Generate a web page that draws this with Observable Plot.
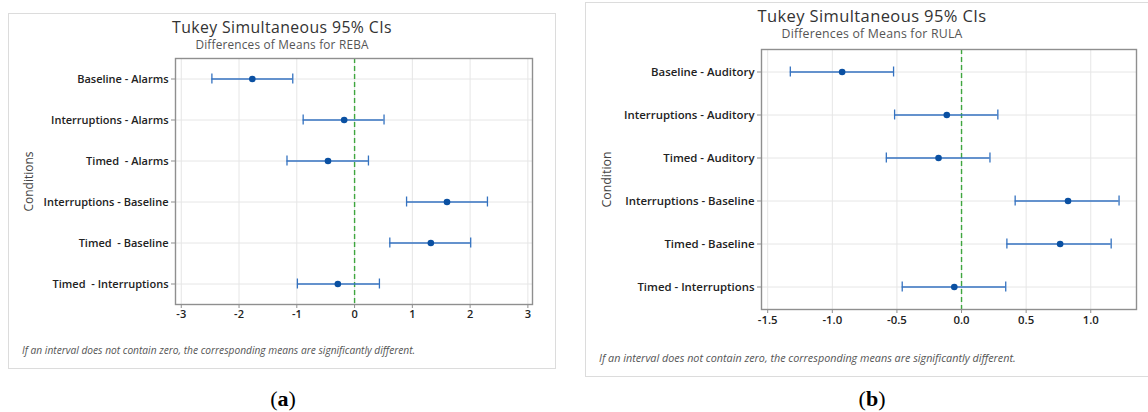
<!DOCTYPE html>
<html>
<head>
<meta charset="utf-8">
<script src="https://cdn.jsdelivr.net/npm/d3@7"></script>
<script src="https://cdn.jsdelivr.net/npm/@observablehq/plot@0.6"></script>
<style>
  html, body { margin: 0; padding: 0; background: #fff; }
  body { width: 1148px; height: 412px; position: relative; overflow: hidden; font-family: "Open Sans", sans-serif; }
  .box { position: absolute; border: 1.5px solid #dcdcdc; box-sizing: border-box; }
  .abs { position: absolute; white-space: nowrap; }
  .title { color: #333; transform: translateX(-50%); letter-spacing: 0.4px; }
  .sub { color: #555; transform: translateX(-50%); letter-spacing: 0.2px; }
  .foot { color: #555; font-style: italic; }
  .lab { font-family: "Liberation Serif", "DejaVu Serif", serif; font-size: 22px; color: #000; transform: translateX(-50%); }
  svg text { white-space: pre; }
</style>
</head>
<body>
<div id="root"></div>
<script>
// ---- Data: panel (a) REBA ----
const condA = ["Baseline - Alarms", "Interruptions - Alarms", "Timed  - Alarms", "Interruptions - Baseline", "Timed  - Baseline", "Timed  - Interruptions"];
const meanA = [-1.77, -0.18, -0.46, 1.60, 1.32, -0.29];
const loA   = [-2.47, -0.89, -1.17, 0.90, 0.61, -0.99];
const hiA   = [-1.07, 0.51, 0.24, 2.30, 2.01, 0.43];
const ticksA = [-3, -2, -1, 0, 1, 2, 3];

// ---- Data: panel (b) RULA ----
const condB = ["Baseline - Auditory", "Interruptions - Auditory", "Timed - Auditory", "Interruptions - Baseline", "Timed - Baseline", "Timed - Interruptions"];
const meanB = [-0.924, -0.114, -0.178, 0.824, 0.763, -0.056];
const loB   = [-1.325, -0.518, -0.582, 0.415, 0.351, -0.459];
const hiB   = [-0.526, 0.281, 0.220, 1.219, 1.158, 0.342];
const ticksB = [-1.5, -1.0, -0.5, 0.0, 0.5, 1.0];

const titleText = "Tukey Simultaneous 95% CIs";
const subA = "Differences of Means for REBA";
const subB = "Differences of Means for RULA";
const footText = "If an interval does not contain zero, the corresponding means are significantly different.";

const LINE = "#3472c0", DOT = "#0a50a2", GREEN = "#3ea63e";

function makeChart(cfg) {
  const data = cfg.cond.map((c, i) => ({cond: c, mean: cfg.mean[i], lo: cfg.lo[i], hi: cfg.hi[i]}));
  return Plot.plot({
    width: cfg.width, height: cfg.height,
    marginLeft: cfg.ml, marginRight: cfg.mr, marginTop: cfg.mt, marginBottom: cfg.mb,
    style: {fontFamily: "Open Sans, sans-serif", color: "#222", background: "transparent", overflow: "visible", maxWidth: "none"},
    x: {domain: cfg.xdomain},
    y: {type: "band", domain: cfg.cond, padding: 0},
    marks: [
      Plot.gridX(cfg.ticks, {stroke: "#e6e6e6", strokeOpacity: 1, strokeWidth: 1}),
      Plot.gridY(cfg.cond, {stroke: "#e6e6e6", strokeOpacity: 1, strokeWidth: 1}),
      Plot.ruleX([0], {stroke: GREEN, strokeWidth: 1.4, strokeDasharray: "5,3"}),
      Plot.ruleY(data, {y: "cond", x1: "lo", x2: "hi", stroke: LINE, strokeWidth: 1.3}),
      Plot.tickX(data, {x: "lo", y: "cond", stroke: LINE, strokeWidth: 1.3, insetTop: cfg.inset, insetBottom: cfg.inset}),
      Plot.tickX(data, {x: "hi", y: "cond", stroke: LINE, strokeWidth: 1.3, insetTop: cfg.inset, insetBottom: cfg.inset}),
      Plot.dot(data, {x: "mean", y: "cond", r: 3.3, fill: DOT, stroke: "none"}),
      Plot.frame({stroke: "#8f8f8f", strokeWidth: 1.4}),
      Plot.axisX({ticks: cfg.ticks, tickFormat: cfg.fmt, tickSize: 4, tickPadding: 2, fontSize: cfg.fs, fontWeight: 600, label: null, stroke: "#8f8f8f", fill: "#222"}),
      Plot.axisY({tickSize: 4, tickPadding: 3, fontSize: cfg.fs, fontWeight: 600, label: null, stroke: "#8f8f8f", fill: "#222"}),
      Plot.text([cfg.ylabel], {frameAnchor: "left", rotate: -90, dx: cfg.ylabDx, fontSize: cfg.fs + 1, fill: "#444", textAnchor: "middle"})
    ]
  });
}

const root = document.getElementById("root");
function add(html) { const d = document.createElement("div"); d.innerHTML = html; const el = d.firstElementChild; root.appendChild(el); return el; }

// Panel (a)
add(`<div class="box" style="left:8px;top:13px;width:548px;height:356px;"></div>`);
add(`<div class="abs title" style="left:282px;top:19px;font-size:15.8px;line-height:16px;">${titleText}</div>`);
add(`<div class="abs sub" style="left:282px;top:38px;font-size:11.8px;line-height:12px;">${subA}</div>`);
const wrapA = add(`<div class="abs" style="left:8px;top:48px;width:548px;"></div>`);
wrapA.appendChild(makeChart({
  cond: condA, mean: meanA, lo: loA, hi: hiA, ticks: ticksA,
  width: 548, height: 282, ml: 167, mr: 24, mt: 10, mb: 26,
  xdomain: [-3.1, 3.08], fmt: d => String(d), fs: 11, inset: 15.5,
  ylabel: "Conditions", ylabDx: -146
}));
add(`<div class="abs foot" style="left:22px;top:344px;font-size:10.2px;line-height:13px;">${footText}</div>`);
add(`<div class="abs lab" style="left:283px;top:387px;line-height:24px;">(<b>a</b>)</div>`);

// Panel (b)
add(`<div class="box" style="left:585px;top:2px;width:574px;height:375px;"></div>`);
add(`<div class="abs title" style="left:872px;top:8px;font-size:16.5px;line-height:16px;">${titleText}</div>`);
add(`<div class="abs sub" style="left:872px;top:28px;font-size:12.3px;line-height:12px;">${subB}</div>`);
const wrapB = add(`<div class="abs" style="left:585px;top:40px;width:574px;"></div>`);
wrapB.appendChild(makeChart({
  cond: condB, mean: meanB, lo: loB, hi: hiB, ticks: ticksB,
  width: 574, height: 290, ml: 176, mr: 23, mt: 9, mb: 21,
  xdomain: [-1.548, 1.354], fmt: d => d.toFixed(1), fs: 11.4, inset: 16.5,
  ylabel: "Condition", ylabDx: -154
}));
add(`<div class="abs foot" style="left:599px;top:351px;font-size:10.8px;line-height:14px;">${footText}</div>`);
add(`<div class="abs lab" style="left:872px;top:387px;line-height:24px;">(<b>b</b>)</div>`);
</script>
</body>
</html>
